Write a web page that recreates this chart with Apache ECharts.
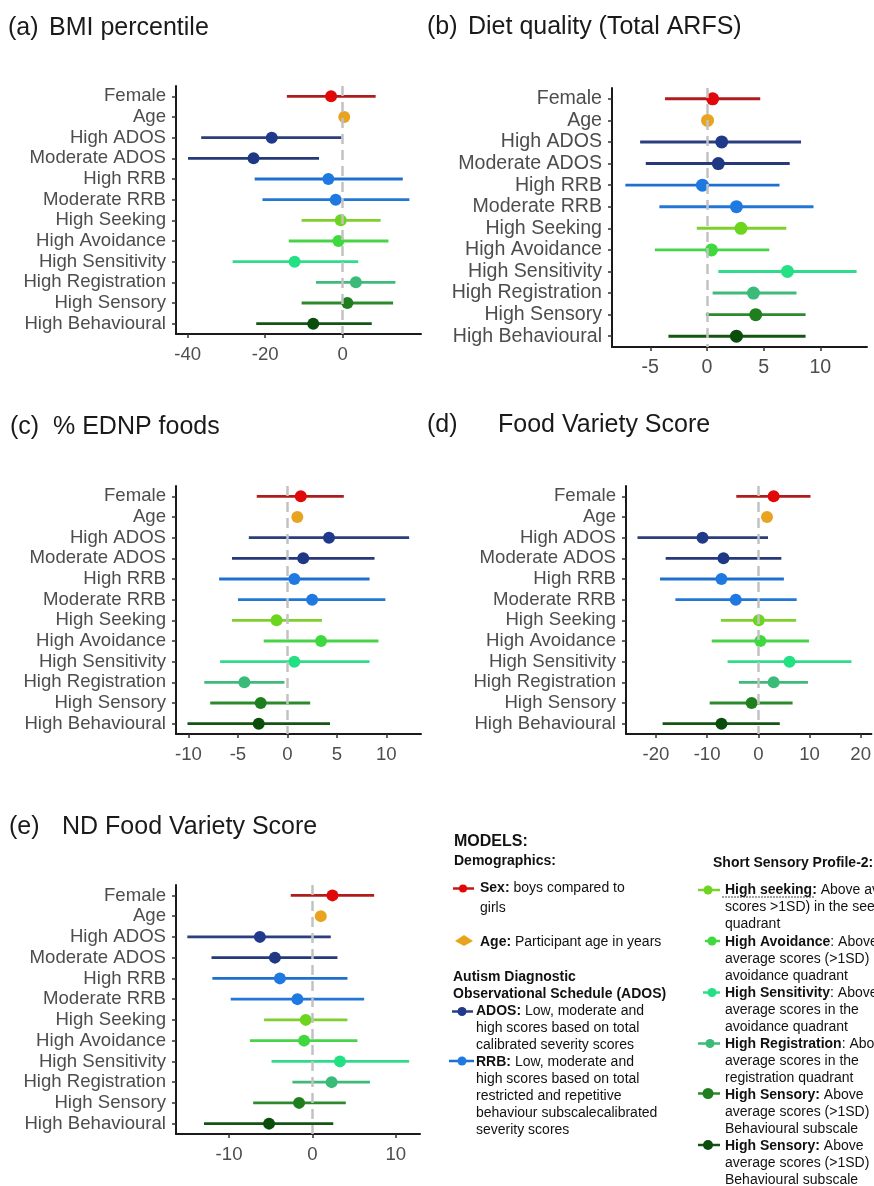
<!DOCTYPE html>
<html>
<head>
<meta charset="utf-8">
<script src="https://cdn.jsdelivr.net/npm/echarts@6/dist/echarts.min.js"></script>
<style>
  html, body { margin: 0; padding: 0; background: #ffffff; }
  #chart { width: 874px; height: 1186px; }
</style>
</head>
<body>
<div id="chart"></div>
<script>
// Predictors shown on every panel (top to bottom)
const categories = ['Female', 'Age', 'High ADOS', 'Moderate ADOS', 'High RRB', 'Moderate RRB',
  'High Seeking', 'High Avoidance', 'High Sensitivity', 'High Registration', 'High Sensory', 'High Behavioural'];

// (a) BMI percentile: estimate and 95% CI
const bmiEst  = [-3.0, 0.4, -18.3, -23.0, -3.7, -1.8, -0.5, -1.1, -12.4, 3.4, 1.2, -7.6];
const bmiLow  = [-14.4, 0.1, -36.5, -39.9, -22.7, -20.7, -10.6, -13.9, -28.4, -6.9, -10.6, -22.3];
const bmiHigh = [8.5, 0.7, -0.3, -6.1, 15.5, 17.2, 9.8, 11.8, 4.0, 13.6, 13.0, 7.5];

// (b) Diet quality (Total ARFS)
const arfsEst  = [0.5, 0.05, 1.3, 1.0, -0.4, 2.6, 3.0, 0.4, 7.1, 4.1, 4.3, 2.6];
const arfsLow  = [-3.7, -0.1, -5.9, -5.4, -7.2, -4.2, -0.9, -4.6, 1.0, 0.5, -0.1, -3.4];
const arfsHigh = [4.7, 0.2, 8.3, 7.3, 6.4, 9.4, 7.0, 5.5, 13.2, 7.9, 8.7, 8.7];

// (c) % EDNP foods
const ednpEst  = [1.35, 1.0, 4.2, 1.6, 0.7, 2.5, -1.1, 3.4, 0.7, -4.35, -2.7, -2.9];
const ednpLow  = [-3.1, 0.8, -3.9, -5.6, -6.9, -5.0, -5.6, -2.4, -6.8, -8.4, -7.8, -10.1];
const ednpHigh = [5.7, 1.2, 12.3, 8.8, 8.3, 9.9, 3.5, 9.2, 8.3, -0.3, 2.3, 4.3];

// (d) Food Variety Score
const fvsEst  = [3.0, 1.7, -10.9, -6.8, -7.2, -4.4, 0.1, 0.4, 6.1, 3.0, -1.3, -7.2];
const fvsLow  = [-4.3, 1.3, -23.6, -18.1, -19.2, -16.2, -7.3, -9.1, -6.0, -3.8, -9.5, -18.7];
const fvsHigh = [10.2, 2.1, 1.9, 4.5, 5.0, 7.5, 7.4, 9.9, 18.2, 9.7, 6.7, 4.2];

// (e) ND Food Variety Score
const ndEst  = [2.4, 1.0, -6.3, -4.5, -3.9, -1.8, -0.8, -1.0, 3.3, 2.3, -1.6, -5.2];
const ndLow  = [-2.6, 0.8, -15.0, -12.1, -12.0, -9.8, -5.8, -7.5, -4.9, -2.4, -7.1, -13.0];
const ndHigh = [7.4, 1.2, 2.2, 3.0, 4.2, 6.2, 4.2, 5.4, 11.6, 6.9, 4.0, 2.5];

// Axis tick values per panel
const ticksA = [-40, -20, 0];
const ticksB = [-5, 0, 5, 10];
const ticksC = [-10, -5, 0, 5, 10];
const ticksD = [-20, -10, 0, 10, 20];
const ticksE = [-10, 0, 10];

// Colours per predictor: interval line and point
const lineColors  = ['#b01c1c', '#e0a020', '#2b3f7e', '#26397a', '#1f6fcf', '#2277d6',
  '#7fd02c', '#48d448', '#30dc8c', '#3fba7a', '#2c8a2c', '#135513'];
const pointColors = ['#e00808', '#e8a420', '#1f3a8a', '#1f3884', '#1e7ae0', '#1e7ae0',
  '#6cd61e', '#3fd83f', '#22e083', '#3bbb78', '#1f7f1f', '#0b4d0b'];

const FONT = "'Liberation Sans', Arial, Helvetica, sans-serif";

// Panel layout: data + grid box + axis range + text size
const panels = [
  { est: bmiEst,  low: bmiLow,  high: bmiHigh,  ticks: ticksA, grid: { left: 176, top: 86,  width: 245, height: 248 }, min: -43.0,  max: 20.2,  fs: 18.6, dot: 12 },
  { est: arfsEst, low: arfsLow, high: arfsHigh, ticks: ticksB, grid: { left: 612, top: 88,  width: 255, height: 259 }, min: -8.38,  max: 14.12, fs: 19.6, dot: 13 },
  { est: ednpEst, low: ednpLow, high: ednpHigh, ticks: ticksC, grid: { left: 176, top: 486, width: 245, height: 248 }, min: -11.26, max: 13.5,  fs: 18.6, dot: 12 },
  { est: fvsEst,  low: fvsLow,  high: fvsHigh,  ticks: ticksD, grid: { left: 626, top: 486, width: 254, height: 248 }, min: -25.85, max: 22.1,  fs: 18.6, dot: 12 },
  { est: ndEst,   low: ndLow,   high: ndHigh,   ticks: ticksE, grid: { left: 176, top: 885, width: 244, height: 249 }, min: -16.36, max: 12.9,  fs: 18.6, dot: 12 }
];

const grids = [], xAxes = [], yAxes = [], series = [];

panels.forEach((p, i) => {
  grids.push(Object.assign({ containLabel: false }, p.grid));

  xAxes.push({
    gridIndex: i, type: 'value', min: p.min, max: p.max,
    axisLine: { show: true, onZero: false, lineStyle: { color: '#1a1a1a', width: 2 } },
    axisTick: { show: true, length: 4, customValues: p.ticks, lineStyle: { color: '#333', width: 1.5 } },
    axisLabel: { customValues: p.ticks, fontSize: p.fs, color: '#4d4d4d', margin: 11, fontFamily: FONT },
    splitLine: { show: false }
  });

  yAxes.push({
    gridIndex: i, type: 'category', data: categories, inverse: true,
    axisLine: { show: true, onZero: false, lineStyle: { color: '#1a1a1a', width: 2 } },
    axisTick: { show: true, interval: 0, alignWithLabel: true, length: 4, lineStyle: { color: '#333', width: 1.5 } },
    axisLabel: { interval: 0, fontSize: p.fs, color: '#4d4d4d', margin: 10, fontFamily: FONT },
    splitLine: { show: false }
  });

  // dashed reference line at zero
  series.push({
    type: 'scatter', xAxisIndex: i, yAxisIndex: i, data: [], z: 1, silent: true,
    markLine: {
      silent: true, symbol: 'none', label: { show: false },
      lineStyle: { type: [10, 6], color: '#c2c2c2', width: 2.5 },
      emphasis: { disabled: true },
      data: [{ xAxis: 0 }]
    }
  });

  // confidence intervals
  series.push({
    type: 'custom', xAxisIndex: i, yAxisIndex: i, z: 2, silent: true,
    encode: { x: [0, 1], y: 2 },
    data: categories.map((c, k) => [p.low[k], p.high[k], k]),
    renderItem: (params, api) => {
      const k = api.value(2);
      const a = api.coord([api.value(0), k]);
      const b = api.coord([api.value(1), k]);
      return {
        type: 'line',
        shape: { x1: a[0], y1: a[1], x2: b[0], y2: b[1] },
        style: { stroke: lineColors[k], lineWidth: 2.9, lineCap: 'butt' }
      };
    }
  });

  // point estimates
  series.push({
    type: 'scatter', xAxisIndex: i, yAxisIndex: i, z: 3, silent: true,
    symbol: 'circle', symbolSize: p.dot,
    data: categories.map((c, k) => ({ value: [p.est[k], k], itemStyle: { color: pointColors[k], opacity: 1 } }))
  });
});

// Panel headings
function heading(x, y, text) {
  return { type: 'text', x: x, y: y, silent: true,
    style: { text: text, fontSize: 25, fontFamily: FONT, fill: '#1a1a1a', align: 'left', verticalAlign: 'middle' } };
}

// Legend text lines (rich text for bold keywords)
const rich = { b: { fontWeight: 'bold', fontSize: 14, fontFamily: FONT, fill: '#111' } };
function note(x, y, text, opts) {
  return { type: 'text', x: x, y: y, silent: true,
    style: Object.assign({ text: text, fontSize: 14, fontFamily: FONT, fill: '#111', align: 'left', verticalAlign: 'middle', rich: rich }, opts || {}) };
}
function key(x1, x2, y, cx, line, dot, r) {
  return [
    { type: 'line', silent: true, shape: { x1: x1, y1: y, x2: x2, y2: y }, style: { stroke: line, lineWidth: 2.5 } },
    { type: 'circle', silent: true, shape: { cx: cx, cy: y, r: r || 4 }, style: { fill: dot } }
  ];
}

const graphics = [
  heading(8, 28, '(a)'), heading(49, 28, 'BMI percentile'),
  heading(427, 27, '(b)'), heading(468, 27, 'Diet quality (Total ARFS)'),
  heading(10, 427, '(c)'), heading(53, 427, '% EDNP foods'),
  heading(427, 425, '(d)'), heading(498, 425, 'Food Variety Score'),
  heading(9, 827, '(e)'), heading(62, 827, 'ND Food Variety Score'),

  note(454, 842, 'MODELS:', { fontWeight: 'bold', fontSize: 16 }),
  note(454, 861, 'Demographics:', { fontWeight: 'bold' }),
  note(480, 888, '{b|Sex:} boys compared to'),
  note(480, 908, 'girls'),
  note(480, 942.5, '{b|Age:} Participant age in years'),
  note(453, 977, 'Autism Diagnostic', { fontWeight: 'bold' }),
  note(453, 994, 'Observational Schedule (ADOS)', { fontWeight: 'bold' }),
  note(476, 1011, '{b|ADOS:} Low, moderate and'),
  note(476, 1028, 'high scores based on total'),
  note(476, 1045, 'calibrated severity scores'),
  note(476, 1062, '{b|RRB:} Low, moderate and'),
  note(476, 1079, 'high scores based on total'),
  note(476, 1096, 'restricted and repetitive'),
  note(476, 1113, 'behaviour subscalecalibrated'),
  note(476, 1130, 'severity scores'),

  note(713, 863, 'Short Sensory Profile-2:', { fontWeight: 'bold' }),
  note(725, 890, '{b|High seeking:} Above average'),
  note(725, 907, 'scores >1SD) in the seeking'),
  note(725, 924, 'quadrant'),
  note(725, 941.7, '{b|High Avoidance}: Above'),
  note(725, 958.7, 'average scores (>1SD) in the'),
  note(725, 975.7, 'avoidance quadrant'),
  note(725, 992.7, '{b|High Sensitivity}: Above'),
  note(725, 1009.7, 'average scores in the'),
  note(725, 1026.7, 'avoidance quadrant'),
  note(725, 1043.7, '{b|High Registration}: Above'),
  note(725, 1060.7, 'average scores in the'),
  note(725, 1077.7, 'registration quadrant'),
  note(725, 1094.7, '{b|High Sensory:} Above'),
  note(725, 1111.7, 'average scores (>1SD) in the'),
  note(725, 1128.7, 'Behavioural subscale'),
  note(725, 1145.7, '{b|High Sensory:} Above'),
  note(725, 1162.7, 'average scores (>1SD) in the'),
  note(725, 1179.7, 'Behavioural subscale'),
  { type: 'line', silent: true, shape: { x1: 722, y1: 897, x2: 815, y2: 897 }, style: { stroke: '#444', lineWidth: 1, lineDash: [2, 1] } },

  // Age key: orange diamond
  { type: 'polygon', silent: true, shape: { points: [[455, 941], [464, 935], [473, 941], [464, 946]] }, style: { fill: '#e6a51c' } }
].concat(
  key(453, 474, 888.5, 463, '#c01818', '#e00808', 4),
  key(452, 473, 1011.5, 462, '#2b3f7e', '#1f3a8a', 4.5),
  key(449, 474, 1061, 462, '#1f6fcf', '#1e7ae0', 4.5),
  key(698, 720, 890, 708, '#7fd02c', '#6cd61e', 4.5),
  key(705, 720, 941, 712, '#48d448', '#3fd83f', 4.5),
  key(703, 720, 992.5, 712, '#30dc8c', '#22e083', 4.5),
  key(698, 720, 1043.5, 710, '#3fba7a', '#3bbb78', 4.5),
  key(698, 720, 1093.5, 708, '#2c8a2c', '#1f7f1f', 5.5),
  key(698, 720, 1145, 708, '#135513', '#0b4d0b', 5)
);

const chart = echarts.init(document.getElementById('chart'), null, { renderer: 'canvas' });
chart.setOption({
  animation: false,
  backgroundColor: '#ffffff',
  grid: grids,
  xAxis: xAxes,
  yAxis: yAxes,
  series: series,
  graphic: { elements: graphics }
});
</script>
</body>
</html>
